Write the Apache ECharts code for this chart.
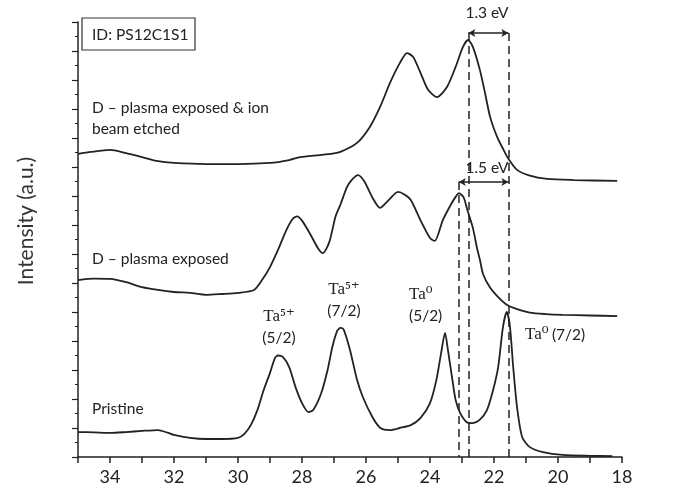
<!DOCTYPE html>
<html><head><meta charset="utf-8">
<script src="https://cdn.jsdelivr.net/npm/echarts@6/dist/echarts.min.js"></script>
<style>html,body{margin:0;padding:0;background:#fff}#c{width:676px;height:494px}</style>
</head><body><div id="c"></div>
<script>
// Binding energy (eV) and intensity (a.u., offset-stacked)
const pristineEnergy = [35.0,34.5,34.0,33.5,33.0,32.5,32.2,32.0,31.5,31.0,30.5,30.0,29.8,29.6,29.4,29.2,29.0,28.85,28.75,28.6,28.4,28.2,28.0,27.8,27.65,27.4,27.2,27.05,26.9,26.8,26.7,26.5,26.28,26.1,25.8,25.55,25.25,24.95,24.6,24.3,24.0,23.8,23.65,23.53,23.44,23.3,23.2,23.06,22.85,22.66,22.45,22.22,22.03,21.87,21.72,21.6,21.5,21.4,21.28,21.12,20.88,20.47,19.85,19.0,18.3];
const pristineIntensity = [0.86,0.85,0.83,0.86,0.9,0.93,0.84,0.76,0.66,0.62,0.62,0.66,0.8,1.1,1.6,2.3,2.9,3.4,3.5,3.45,3.1,2.4,1.86,1.55,1.62,2.2,3.0,3.8,4.35,4.45,4.4,3.69,2.66,2.07,1.38,1.0,0.93,1.0,1.1,1.34,1.86,2.66,3.6,4.28,3.69,2.66,1.97,1.52,1.2,1.17,1.28,1.62,2.3,3.1,4.48,5.0,4.48,3.1,1.72,0.69,0.34,0.17,0.07,0.04,0.03];

const plasmaEnergy = [35.0,34.5,34.0,33.5,33.0,32.5,32.0,31.5,31.0,30.5,30.0,29.5,29.25,29.0,28.75,28.5,28.3,28.15,28.0,27.75,27.5,27.35,27.15,26.95,26.8,26.6,26.45,26.25,26.05,25.8,25.56,25.3,25.0,24.8,24.6,24.3,24.0,23.85,23.6,23.35,23.2,23.1,22.95,22.84,22.66,22.53,22.44,22.34,22.13,21.9,21.6,21.28,20.88,20.4,19.84,19.0,18.15];
const plasmaIntensity = [6.1,6.15,6.14,6.03,5.86,5.76,5.69,5.66,5.59,5.62,5.66,5.76,6.1,6.55,7.14,7.8,8.2,8.3,8.15,7.7,7.2,7.03,7.4,8.3,8.7,9.3,9.55,9.72,9.5,8.95,8.59,8.85,9.14,9.05,8.86,8.17,7.55,7.45,8.17,8.7,8.97,9.1,8.95,8.55,7.9,7.2,6.8,6.3,5.85,5.55,5.25,5.1,4.98,4.93,4.9,4.88,4.86];

const etchedEnergy = [35.0,34.6,34.0,33.5,33.0,32.5,32.0,31.0,30.0,29.0,28.4,28.06,27.1,26.8,26.28,25.88,25.56,25.25,24.94,24.72,24.53,24.31,24.06,23.78,23.47,23.2,22.97,22.81,22.66,22.44,22.28,22.12,21.9,21.7,21.56,21.28,20.88,20.34,19.5,18.15];
const etchedIntensity = [10.45,10.52,10.59,10.48,10.34,10.2,10.14,10.1,10.1,10.14,10.24,10.34,10.45,10.52,10.83,11.38,12.07,12.9,13.59,13.93,13.8,13.28,12.66,12.41,12.76,13.45,14.14,14.38,14.14,13.34,12.55,11.72,11.03,10.59,10.3,9.9,9.7,9.59,9.55,9.52];

// Reference lines (eV) and shifts
const peakLines = [23.1, 22.8, 21.55];
const peakLineTops = [9.48, 14.62, 14.62];
const shiftArrows = [
  {from: 22.8, to: 21.55, level: 14.62, label: '1.3 eV'},
  {from: 23.1, to: 21.55, level: 9.48, label: '1.5 eV'}
];
const xTickLabels = [34, 32, 30, 28, 26, 24, 22, 20, 18];

const zip = (a, b) => a.map((v, i) => [v, b[i]]);
const ink = '#222';
const sans = 'Lato, "Open Sans", sans-serif';
const serif = '"Liberation Serif", "DejaVu Serif", serif';

const chart = echarts.init(document.getElementById('c'), null, {renderer: 'canvas'});

const markLineData = [];
peakLines.forEach((x, i) => {
  markLineData.push([{coord: [x, peakLineTops[i]], symbol: 'none'}, {coord: [x, 0], symbol: 'none'}]);
});
const arrowData = shiftArrows.map(a => [
  {coord: [a.from, a.level], symbol: 'arrow'},
  {coord: [a.to, a.level], symbol: 'arrow'}
]);

const lineSeries = (data, extra) => Object.assign({
  type: 'line', data: data, showSymbol: false, smooth: 0.25,
  lineStyle: {color: ink, width: 1.8}, silent: true, animation: false, z: 3
}, extra || {});

const txt = (x, y, text, font, align) => ({
  type: 'text', x: x, y: y,
  style: {text: text, font: font, fill: ink, align: align || 'left', textAlign: align || 'left',
    verticalAlign: 'middle', textVerticalAlign: 'middle'}
});

chart.setOption({
  animation: false,
  grid: {left: 78, right: 54, top: 22, bottom: 37, containLabel: false},
  xAxis: {
    type: 'value', min: 18, max: 35, interval: 1, inverse: true,
    axisLine: {lineStyle: {color: ink, width: 1.5}},
    axisTick: {length: 6, lineStyle: {color: ink, width: 1.5}},
    splitLine: {show: false},
    axisLabel: {
      color: ink, fontSize: 18, fontFamily: sans, margin: 11,
      formatter: v => xTickLabels.indexOf(v) >= 0 ? String(v) : ''
    }
  },
  yAxis: {
    type: 'value', min: 0, max: 15, interval: 1,
    axisLine: {show: true, lineStyle: {color: ink, width: 1.5}},
    axisTick: {show: true, length: 6, lineStyle: {color: ink, width: 1.2}},
    minorTick: {show: true, splitNumber: 2, length: 3, lineStyle: {color: ink, width: 1}},
    splitLine: {show: false},
    axisLabel: {show: false}
  },
  series: [
    lineSeries(zip(pristineEnergy, pristineIntensity), {
      markLine: {
        silent: true, animation: false, symbol: 'none',
        label: {show: false},
        lineStyle: {color: ink, width: 1.5, type: [8, 5]},
        data: markLineData
      }
    }),
    lineSeries(zip(plasmaEnergy, plasmaIntensity), {
      markLine: {
        silent: true, animation: false, symbolSize: [6, 7],
        label: {show: false},
        lineStyle: {color: ink, width: 1.5, type: 'solid'},
        data: arrowData
      }
    }),
    lineSeries(zip(etchedEnergy, etchedIntensity))
  ],
  graphic: [
    {type: 'text', x: 26, y: 221, rotation: Math.PI / 2,
      style: {text: 'Intensity (a.u.)', font: '21px ' + sans, fill: '#333', align: 'center', verticalAlign: 'middle', textAlign: 'center', textVerticalAlign: 'middle'}},
    {type: 'rect', shape: {x: 82, y: 18, width: 113, height: 32}, style: {fill: '#fff', stroke: '#333', lineWidth: 1.2}, z: 10},
    Object.assign(txt(92, 35, 'ID: PS12C1S1', '15.5px ' + sans), {z: 11}),
    txt(92, 108, 'D – plasma exposed & ion', '15.5px ' + sans),
    txt(92, 129, 'beam etched', '15.5px ' + sans),
    txt(92, 259, 'D – plasma exposed', '15.5px ' + sans),
    txt(92, 409, 'Pristine', '15.5px ' + sans),
    txt(487, 13, shiftArrows[0].label, '15.5px ' + sans, 'center'),
    txt(487, 168, shiftArrows[1].label, '15.5px ' + sans, 'center'),
    txt(279, 317, 'Ta⁵⁺', '17px ' + serif, 'center'),
    txt(279, 338, '(5/2)', '15.5px ' + sans, 'center'),
    txt(344, 290, 'Ta⁵⁺', '17px ' + serif, 'center'),
    txt(344, 311, '(7/2)', '15.5px ' + sans, 'center'),
    txt(409, 295, 'Ta⁰', '17px ' + serif),
    txt(409, 316, '(5/2)', '15.5px ' + sans),
    {type: 'text', x: 525, y: 335, style: {
      text: '{a|Ta⁰} {b|(7/2)}', fill: ink, verticalAlign: 'middle', textVerticalAlign: 'middle',
      rich: {a: {fontFamily: serif, fontSize: 17, fill: ink}, b: {fontFamily: sans, fontSize: 15.5, fill: ink}}
    }}
  ]
});
</script>
</body></html>
